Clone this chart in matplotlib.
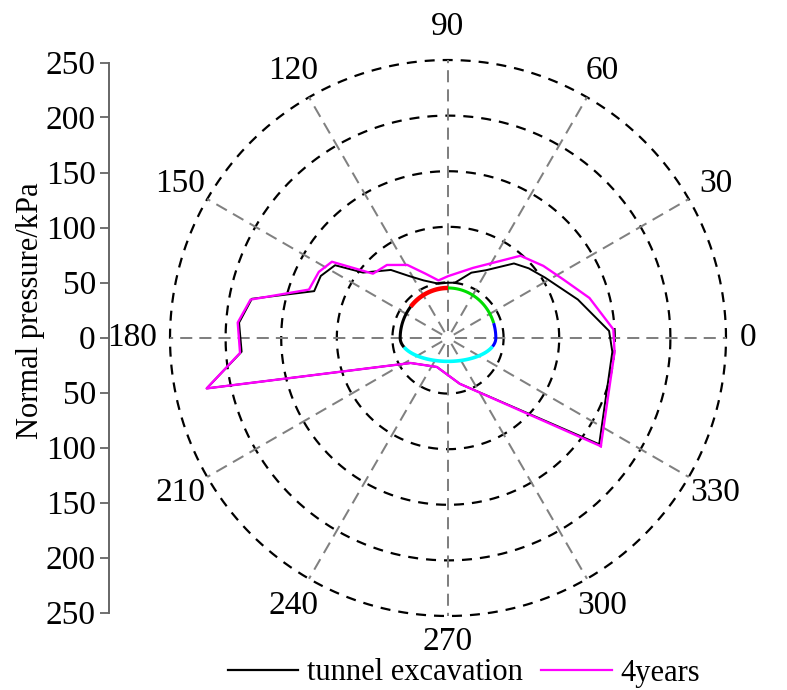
import numpy as np
import matplotlib
matplotlib.use("Agg")
import matplotlib.pyplot as plt
from matplotlib.lines import Line2D

plt.rcParams['font.family'] = ['Liberation Serif', 'DejaVu Serif']
plt.rcParams['font.size'] = 22

# ---------------- data ----------------
# tunnel excavation (angle in degrees, normal pressure kPa)
exc_angle = [324.9, 355.2, 2.5, 16.5, 31.9, 40.8, 48.5, 60.7, 70.3, 82.9, 90.0,
             100.0, 112.9, 122.2, 130.0, 142.4, 147.2, 154.0, 160.7, 168.7,
             175.8, 183.8, 191.8, 213.8, 249.0, 284.4]
exc_pressure = [166.2, 148.3, 145.0, 121.8, 102.8, 95.9, 89.5, 69.9, 62.4, 50.1, 49.7,
                49.6, 56.2, 65.9, 79.9, 96.4, 120.8, 127.3, 127.5, 179.9,
                188.4, 186.0, 221.7, 40.4, 27.9, 42.5]

# 4 years
yr4_angle = [324.7, 355.2, 3.0, 15.8, 27.0, 37.1, 48.6, 70.4, 89.7, 99.4, 109.4,
             119.1, 129.9, 139.4, 146.7, 152.9, 160.8, 169.0, 175.8, 184.1,
             191.8, 213.8, 249.0, 284.4]
yr4_pressure = [168.4, 150.3, 148.9, 132.2, 116.2, 107.5, 98.6, 66.9, 55.7, 52.5, 61.4,
                75.2, 85.6, 88.9, 124.9, 130.5, 132.4, 180.9, 189.6, 187.5,
                221.7, 40.4, 27.9, 42.5]

series_names = ["tunnel excavation", "4years"]
ring_values = [50, 100, 150, 200, 250]
angle_ticks = [0, 30, 60, 90, 120, 150, 180, 210, 240, 270, 300, 330]
y_ticks = [-250, -200, -150, -100, -50, 0, 50, 100, 150, 200, 250]

# tunnel outline: (start, end) angles of coloured segments, degrees
tunnel_segments = [(90, 140, 'red', 3.2), (18, 90, '#00dd00', 2.2),
                   (-11, 18, '#0000ff', 2.2), (191.7, 349, '#00ffff', 2.6),
                   (140, 191.7, 'black', 2.2)]
arch_a, arch_b, invert_b = 43.0, 45.0, 21.0

# ---------------- figure ----------------
W, H = 787, 690
fig = plt.figure(figsize=(W / 100, H / 100), dpi=100)

cx, cy, R = 448, 338, 278
ax = fig.add_axes([(cx - R) / W, (H - cy - R) / H, 2 * R / W, 2 * R / H],
                  projection='polar')
ax.set_ylim(0, 250)
ax.grid(False)
ax.set_xticks([])
ax.set_yticks([])
ax.spines['polar'].set_visible(False)
ax.patch.set_alpha(0)

# rings
th_full = np.linspace(0, 2 * np.pi, 721)
for rv in ring_values:
    ax.plot(th_full, np.full_like(th_full, rv), color='black', lw=1.6,
            dashes=(4.5, 3.6), zorder=1, clip_on=False)
# spokes + angle labels
label_pos = {0: (262, 'left'), 180: (262, 'right'), 270: (273, 'center'),
             90: (280, 'center')}
for a in angle_ticks:
    t = np.deg2rad(a)
    ax.plot([t, t], [6, 250], color='#808080', lw=1.45, dashes=(6, 3.5),
            zorder=1, clip_on=False)
    r_lab, ha = label_pos.get(a, (278, 'center'))
    ax.text(t, r_lab, str(a), ha=ha, va='center', fontsize=24)

# tunnel outline
def tunnel_r(th):
    b = np.where(np.sin(th) >= 0, arch_b, invert_b)
    return 1.0 / np.sqrt(np.cos(th) ** 2 / arch_a ** 2 + np.sin(th) ** 2 / b ** 2)

for s, e, c, lw in tunnel_segments:
    th = np.deg2rad(np.linspace(s, e, 80))
    ax.plot(th, tunnel_r(th), color=c, lw=lw, solid_capstyle='butt', zorder=3)

# data curves (closed)
def closed(a, p):
    a = np.deg2rad(np.array(a + a[:1]))
    return a, np.array(p + p[:1])

ta, pa = closed(exc_angle, exc_pressure)
ax.plot(ta, pa, color='black', lw=1.4, zorder=4)
tb, pb = closed(yr4_angle, yr4_pressure)
ax.plot(tb, pb, color='#ff00ff', lw=1.7, zorder=5)

# left linear axis
ax2 = fig.add_axes([109 / W, (H - 612.5) / H, 0.0005, 550 / H])
ax2.set_ylim(-250, 250)
ax2.set_xticks([])
ax2.set_yticks(y_ticks)
ax2.set_yticklabels([str(abs(v)) for v in y_ticks])
for sp in ['right', 'top', 'bottom']:
    ax2.spines[sp].set_visible(False)
ax2.spines['left'].set_color('#666666')
ax2.spines['left'].set_linewidth(1.4)
ax2.tick_params(axis='y', direction='out', length=6.5, width=1.3,
                color='#666666', labelsize=24, pad=3)
ax2.patch.set_alpha(0)

fig.text(31 / W, 1 - 311 / H, "Normal pressure/kPa", rotation=90,
         ha='center', va='center', fontsize=22)

handles = [Line2D([], [], color='black', lw=1.6),
           Line2D([], [], color='#ff00ff', lw=1.6)]
fig.legend(handles, series_names, loc='center', bbox_to_anchor=(464 / W, 17 / H),
           ncol=2, frameon=False, handlelength=2.3, handletextpad=0.3,
           columnspacing=0.6, fontsize=22, borderaxespad=0, borderpad=0)

fig.savefig("out.png", dpi=100)
